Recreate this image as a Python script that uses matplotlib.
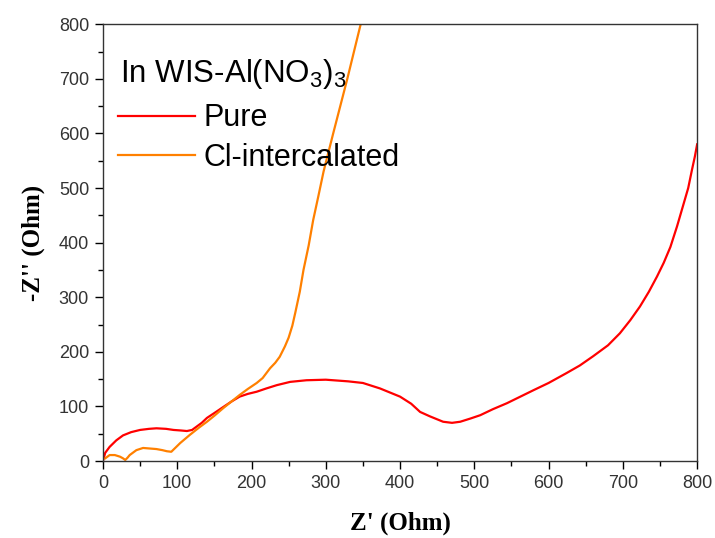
import matplotlib
matplotlib.use('Agg')
import matplotlib.pyplot as plt
from matplotlib.ticker import MultipleLocator

# Nyquist data
pure_x = [0, 3, 9, 18, 27, 38, 50, 62, 72, 85, 95, 105, 113, 120, 126, 133, 140, 150, 162, 173,
          184, 195, 207, 220, 234, 252, 274, 300, 310, 330, 350, 373, 400, 415, 427, 440, 458,
          470, 481, 495, 508, 525, 544, 562, 580, 600, 624, 642, 660, 680, 696, 710, 723, 735,
          746, 755, 764, 773, 782, 788, 793, 797, 800]
pure_y = [0, 15, 26, 38, 47, 53, 57, 59, 60, 59, 57, 56, 55, 57, 63, 70, 79, 88, 99, 109,
          118, 123, 127, 133, 139, 145, 148, 149, 148, 146, 143, 133, 118, 105, 90, 82, 72,
          70, 72, 78, 84, 95, 106, 118, 130, 143, 161, 175, 192, 212, 234, 258, 283, 310,
          338, 363, 392, 430, 472, 500, 533, 558, 580]

cl_x = [3, 9, 16, 23, 27, 30, 33, 36, 45, 54, 63, 72, 80, 86, 92, 98, 104, 117, 130, 140,
        150, 162, 173, 184, 195, 207, 215, 225, 232, 238, 245, 250, 255, 259, 265, 270,
        277, 283, 290, 297, 310, 329, 347]
cl_y = [5, 11, 11, 8, 5, 2, 6, 11, 20, 24, 23, 22, 20, 18, 17, 25, 33, 48, 62, 72,
        83, 97, 109, 121, 132, 143, 152, 170, 180, 191, 210, 226, 248, 272, 310, 350,
        395, 441, 485, 530, 600, 700, 800]

labels = ['Pure', 'Cl-intercalated']
colors = ['#ff0000', '#ff8000']
title = 'In WIS-Al(NO$_3$)$_3$'

plt.rcParams['font.family'] = ['Liberation Sans', 'DejaVu Sans']
plt.rcParams['mathtext.fontset'] = 'custom'
plt.rcParams['mathtext.rm'] = 'Liberation Sans'
plt.rcParams['mathtext.it'] = 'Liberation Sans'

fig = plt.figure(figsize=(7.15, 5.38), dpi=100)
ax = fig.add_axes([0.144, 0.143, 0.831, 0.812])

ax.plot(pure_x, pure_y, color=colors[0], lw=1.6, label=labels[0])
ax.plot(cl_x, cl_y, color=colors[1], lw=1.6, label=labels[1])

ax.set_xlim(0, 800)
ax.set_ylim(0, 800)
ax.xaxis.set_major_locator(MultipleLocator(100))
ax.xaxis.set_minor_locator(MultipleLocator(50))
ax.yaxis.set_major_locator(MultipleLocator(100))
ax.yaxis.set_minor_locator(MultipleLocator(50))
ax.tick_params(which='major', direction='out', length=6, width=1, labelsize=13,
               labelcolor='#333333', pad=4)
ax.tick_params(which='minor', direction='out', length=3.5, width=1)
for s in ax.spines.values():
    s.set_linewidth(1)
    s.set_color('#333333')

ax.set_xlabel("Z' (Ohm)", family='Liberation Serif', fontweight='bold', fontsize=18, labelpad=14)
ax.set_ylabel("-Z'' (Ohm)", family='Liberation Serif', fontweight='bold', fontsize=18, labelpad=10)

ax.text(0.028, 0.867, title, transform=ax.transAxes, fontsize=22.5, va='baseline', ha='left')
ax.legend(loc='upper left', bbox_to_anchor=(0.005, 0.847), frameon=False, fontsize=22,
          handlelength=2.5, handletextpad=0.3, labelspacing=0.31, borderaxespad=0)

fig.savefig('out.png', dpi=100)
